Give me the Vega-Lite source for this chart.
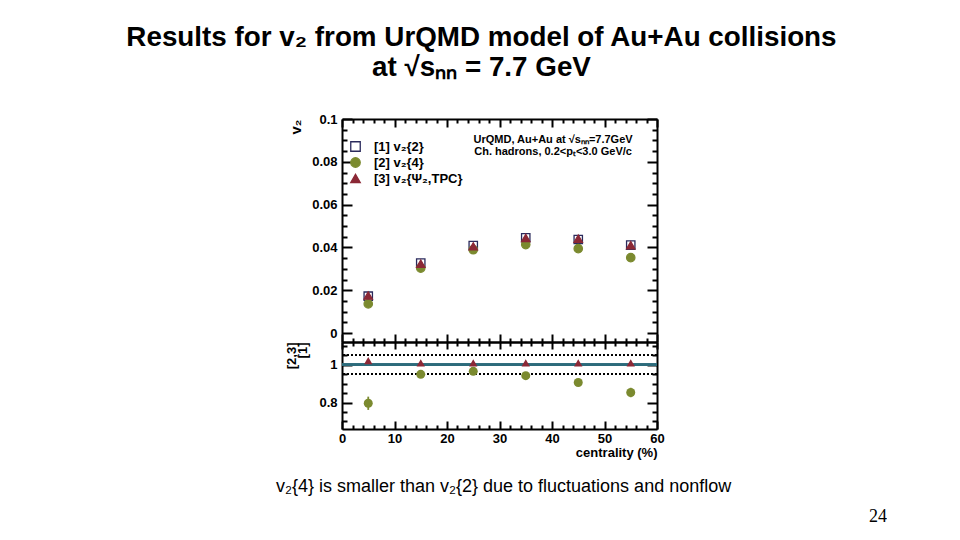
{
  "$schema": "https://vega.github.io/schema/vega-lite/v6.json",
  "background": "white",
  "padding": {"left": 125, "top": 24, "right": 0, "bottom": 0},
  "title": {
    "text": ["Results for v₂ from UrQMD model of Au+Au collisions", "at √sₙₙ = 7.7 GeV"],
    "anchor": "middle",
    "dx": -100,
    "offset": 31,
    "font": "Liberation Sans",
    "fontSize": 27.8,
    "fontWeight": "bold",
    "lineHeight": 30,
    "color": "black"
  },
  "datasets": {
    "v2": [
      {"cent": 5, "method": "[1] v₂{2}", "v2": 0.0172},
      {"cent": 15, "method": "[1] v₂{2}", "v2": 0.0327},
      {"cent": 25, "method": "[1] v₂{2}", "v2": 0.0409},
      {"cent": 35, "method": "[1] v₂{2}", "v2": 0.0445},
      {"cent": 45, "method": "[1] v₂{2}", "v2": 0.0437},
      {"cent": 55, "method": "[1] v₂{2}", "v2": 0.0411},
      {"cent": 5, "method": "[2] v₂{4}", "v2": 0.0136},
      {"cent": 15, "method": "[2] v₂{4}", "v2": 0.0303},
      {"cent": 25, "method": "[2] v₂{4}", "v2": 0.0389},
      {"cent": 35, "method": "[2] v₂{4}", "v2": 0.0413},
      {"cent": 45, "method": "[2] v₂{4}", "v2": 0.0394},
      {"cent": 55, "method": "[2] v₂{4}", "v2": 0.0352},
      {"cent": 5, "method": "[3] v₂{Ψ₂,TPC}", "v2": 0.0175},
      {"cent": 15, "method": "[3] v₂{Ψ₂,TPC}", "v2": 0.0324},
      {"cent": 25, "method": "[3] v₂{Ψ₂,TPC}", "v2": 0.0405},
      {"cent": 35, "method": "[3] v₂{Ψ₂,TPC}", "v2": 0.0444},
      {"cent": 45, "method": "[3] v₂{Ψ₂,TPC}", "v2": 0.0441},
      {"cent": 55, "method": "[3] v₂{Ψ₂,TPC}", "v2": 0.041}
    ],
    "ratio": [
      {"cent": 5, "method": "[2] v₂{4}", "ratio": 0.796, "err": 0.035},
      {"cent": 15, "method": "[2] v₂{4}", "ratio": 0.949, "err": 0.012},
      {"cent": 25, "method": "[2] v₂{4}", "ratio": 0.965, "err": 0.01},
      {"cent": 35, "method": "[2] v₂{4}", "ratio": 0.942, "err": 0.01},
      {"cent": 45, "method": "[2] v₂{4}", "ratio": 0.906, "err": 0.012},
      {"cent": 55, "method": "[2] v₂{4}", "ratio": 0.853, "err": 0.025},
      {"cent": 5, "method": "[3] v₂{Ψ₂,TPC}", "ratio": 1.021, "err": 0.004},
      {"cent": 15, "method": "[3] v₂{Ψ₂,TPC}", "ratio": 1.009, "err": 0.004},
      {"cent": 25, "method": "[3] v₂{Ψ₂,TPC}", "ratio": 1.009, "err": 0.004},
      {"cent": 35, "method": "[3] v₂{Ψ₂,TPC}", "ratio": 1.009, "err": 0.004},
      {"cent": 45, "method": "[3] v₂{Ψ₂,TPC}", "ratio": 1.009, "err": 0.004},
      {"cent": 55, "method": "[3] v₂{Ψ₂,TPC}", "ratio": 1.01, "err": 0.004}
    ]
  },
  "vconcat": [
    {
      "vconcat": [
        {
          "width": 315,
          "height": 223,
          "data": {"name": "v2"},
          "layer": [
            {
              "mark": {"type": "point", "size": 70, "strokeWidth": 1.3, "opacity": 1},
              "encoding": {
                "x": {
                  "field": "cent", "type": "quantitative",
                  "scale": {"domain": [0, 60], "nice": false, "zero": false},
                  "axis": {"orient": "bottom", "values": [0, 10, 20, 30, 40, 50, 60], "labels": false, "title": null, "tickSize": -8}
                },
                "y": {
                  "field": "v2", "type": "quantitative",
                  "scale": {"domain": [-0.0042, 0.1], "nice": false, "zero": false},
                  "axis": {
                    "orient": "left", "values": [0, 0.02, 0.04, 0.06, 0.08, 0.1], "format": "~g",
                    "tickSize": -10, "labelPadding": 15,
                    "title": "v₂", "titleAnchor": "end", "titlePadding": 8, "titleFontSize": 15
                  }
                },
                "shape": {
                  "field": "method", "type": "nominal",
                  "scale": {"domain": ["[1] v₂{2}", "[2] v₂{4}", "[3] v₂{Ψ₂,TPC}"], "range": ["square", "circle", "triangle-up"]},
                  "legend": {"orient": "none", "legendX": 7, "legendY": 21, "title": null}
                },
                "fill": {
                  "field": "method", "type": "nominal",
                  "scale": {"domain": ["[1] v₂{2}", "[2] v₂{4}", "[3] v₂{Ψ₂,TPC}"], "range": ["transparent", "#7b8a2f", "#8b2836"]},
                  "legend": {"orient": "none", "legendX": 7, "legendY": 21, "title": null}
                },
                "stroke": {
                  "field": "method", "type": "nominal",
                  "scale": {"domain": ["[1] v₂{2}", "[2] v₂{4}", "[3] v₂{Ψ₂,TPC}"], "range": ["#2a2a5c", "#7b8a2f", "#8b2836"]},
                  "legend": {"orient": "none", "legendX": 7, "legendY": 21, "title": null}
                }
              }
            },
            {
              "mark": {"type": "point", "opacity": 0},
              "encoding": {
                "x": {"field": "cent", "type": "quantitative", "axis": {"orient": "bottom", "values": [2, 4, 6, 8, 12, 14, 16, 18, 22, 24, 26, 28, 32, 34, 36, 38, 42, 44, 46, 48, 52, 54, 56, 58], "labels": false, "domain": false, "title": null, "tickSize": -4}},
                "y": {"field": "v2", "type": "quantitative", "axis": {"orient": "left", "values": [0.005, 0.01, 0.015, 0.025, 0.03, 0.035, 0.045, 0.05, 0.055, 0.065, 0.07, 0.075, 0.085, 0.09, 0.095], "labels": false, "domain": false, "title": null, "tickSize": -5}}
              }
            },
            {
              "mark": {"type": "point", "opacity": 0},
              "encoding": {
                "x": {"field": "cent", "type": "quantitative", "axis": {"orient": "top", "values": [0, 10, 20, 30, 40, 50, 60], "labels": false, "title": null, "tickSize": -8}},
                "y": {"field": "v2", "type": "quantitative", "axis": {"orient": "right", "values": [0, 0.02, 0.04, 0.06, 0.08, 0.1], "labels": false, "title": null, "tickSize": -10}}
              }
            },
            {
              "mark": {"type": "point", "opacity": 0},
              "encoding": {
                "x": {"field": "cent", "type": "quantitative", "axis": {"orient": "top", "values": [2, 4, 6, 8, 12, 14, 16, 18, 22, 24, 26, 28, 32, 34, 36, 38, 42, 44, 46, 48, 52, 54, 56, 58], "labels": false, "domain": false, "title": null, "tickSize": -4}},
                "y": {"field": "v2", "type": "quantitative", "axis": {"orient": "right", "values": [0.005, 0.01, 0.015, 0.025, 0.03, 0.035, 0.045, 0.05, 0.055, 0.065, 0.07, 0.075, 0.085, 0.09, 0.095], "labels": false, "domain": false, "title": null, "tickSize": -5}}
              }
            },
            {
              "data": {"values": [{}]},
              "mark": {"type": "text", "align": "center", "baseline": "top", "font": "Liberation Sans", "fontSize": 11, "fontWeight": "bold", "lineHeight": 12, "color": "black"},
              "encoding": {
                "x": {"datum": 40.2, "axis": null},
                "y": {"datum": 0.093, "axis": null},
                "text": {"value": ["UrQMD, Au+Au at √sₙₙ=7.7GeV", "Ch. hadrons, 0.2<pₜ<3.0 GeV/c"]}
              }
            }
          ],
          "resolve": {"axis": {"x": "independent", "y": "independent"}}
        },
        {
          "width": 315,
          "height": 87,
          "data": {"name": "ratio"},
          "title": {
            "text": "v₂{4} is smaller than v₂{2} due to fluctuations and nonflow",
            "orient": "bottom",
            "anchor": "start",
            "dx": -10,
            "offset": 19,
            "font": "Liberation Sans",
            "fontSize": 18,
            "fontWeight": "normal",
            "color": "black"
          },
          "layer": [
            {
              "mark": {"type": "rule", "color": "#2c6b7b", "strokeWidth": 2},
              "encoding": {"y": {"datum": 1, "axis": null}}
            },
            {
              "mark": {"type": "rule", "color": "black", "strokeWidth": 1.2, "strokeDash": [2, 2]},
              "encoding": {"y": {"datum": 1.05, "axis": null}}
            },
            {
              "mark": {"type": "rule", "color": "black", "strokeWidth": 1.2, "strokeDash": [2, 2]},
              "encoding": {"y": {"datum": 0.95, "axis": null}}
            },
            {
              "transform": [{"filter": "datum.method === '[2] v₂{4}'"}],
              "mark": {"type": "errorbar", "ticks": false, "color": "#7b8a2f", "thickness": 1.8},
              "encoding": {
                "x": {"field": "cent", "type": "quantitative", "axis": null},
                "y": {"field": "ratio", "type": "quantitative", "axis": null},
                "yError": {"field": "err"}
              }
            },
            {
              "transform": [{"filter": "datum.method === '[2] v₂{4}'"}],
              "mark": {"type": "point", "shape": "circle", "filled": true, "size": 81, "color": "#7b8a2f", "opacity": 1},
              "encoding": {
                "x": {
                  "field": "cent", "type": "quantitative",
                  "scale": {"domain": [0, 60], "nice": false, "zero": false},
                  "axis": {"orient": "bottom", "values": [0, 10, 20, 30, 40, 50, 60], "tickSize": -8, "labelPadding": 11, "title": "centrality (%)", "titleAnchor": "end", "titlePadding": 1}
                },
                "y": {
                  "field": "ratio", "type": "quantitative",
                  "scale": {"domain": [0.66, 1.12], "nice": false, "zero": false},
                  "axis": {"orient": "left", "values": [0.8, 1], "format": "~g", "tickSize": -10, "labelPadding": 15, "title": ["[2,3]", "[1]"], "titleAnchor": "end", "titlePadding": 9, "titleFontSize": 13, "titleLineHeight": 11}
                }
              }
            },
            {
              "transform": [{"filter": "datum.method === '[3] v₂{Ψ₂,TPC}'"}],
              "mark": {"type": "point", "shape": "triangle-up", "filled": true, "size": 70, "color": "#8b2836", "opacity": 1},
              "encoding": {
                "x": {"field": "cent", "type": "quantitative", "axis": null},
                "y": {"field": "ratio", "type": "quantitative", "axis": null}
              }
            },
            {
              "mark": {"type": "point", "opacity": 0},
              "encoding": {
                "x": {"field": "cent", "type": "quantitative", "axis": {"orient": "bottom", "values": [2, 4, 6, 8, 12, 14, 16, 18, 22, 24, 26, 28, 32, 34, 36, 38, 42, 44, 46, 48, 52, 54, 56, 58], "labels": false, "domain": false, "title": null, "tickSize": -4}},
                "y": {"field": "ratio", "type": "quantitative", "axis": {"orient": "left", "values": [0.7, 0.75, 0.85, 0.9, 0.95, 1.05, 1.1], "labels": false, "domain": false, "title": null, "tickSize": -5}}
              }
            },
            {
              "mark": {"type": "point", "opacity": 0},
              "encoding": {
                "x": {"field": "cent", "type": "quantitative", "axis": {"orient": "top", "values": [0, 10, 20, 30, 40, 50, 60], "labels": false, "title": null, "tickSize": -7}},
                "y": {"field": "ratio", "type": "quantitative", "axis": {"orient": "right", "values": [0.8, 1], "labels": false, "title": null, "tickSize": -10}}
              }
            },
            {
              "mark": {"type": "point", "opacity": 0},
              "encoding": {
                "x": {"field": "cent", "type": "quantitative", "axis": {"orient": "top", "values": [2, 4, 6, 8, 12, 14, 16, 18, 22, 24, 26, 28, 32, 34, 36, 38, 42, 44, 46, 48, 52, 54, 56, 58], "labels": false, "domain": false, "title": null, "tickSize": -4}},
                "y": {"field": "ratio", "type": "quantitative", "axis": {"orient": "right", "values": [0.7, 0.75, 0.85, 0.9, 0.95, 1.05, 1.1], "labels": false, "domain": false, "title": null, "tickSize": -5}}
              }
            }
          ],
          "resolve": {"axis": {"x": "independent", "y": "independent"}}
        }
      ],
      "spacing": 0,
      "bounds": "flush",
      "resolve": {
        "scale": {"shape": "independent", "fill": "independent", "stroke": "independent"},
        "legend": {"shape": "independent", "fill": "independent", "stroke": "independent"}
      }
    },
    {
      "width": 545,
      "height": 24,
      "data": {"values": [{"page": "24"}]},
      "mark": {"type": "text", "align": "right", "baseline": "bottom", "font": "Liberation Serif", "fontSize": 18, "color": "black"},
      "encoding": {
        "text": {"field": "page", "type": "nominal"},
        "x": {"value": "width"},
        "y": {"value": "height"}
      }
    }
  ],
  "spacing": 6,
  "resolve": {
    "scale": {"shape": "independent", "fill": "independent", "stroke": "independent"},
    "legend": {"shape": "independent", "fill": "independent", "stroke": "independent"}
  },
  "config": {
    "view": {"stroke": null},
    "font": "Liberation Sans",
    "axis": {
      "grid": false,
      "domainColor": "black",
      "domainWidth": 2,
      "tickColor": "black",
      "tickWidth": 2,
      "labelFont": "Liberation Sans",
      "labelFontSize": 13,
      "labelFontWeight": "bold",
      "labelColor": "black",
      "labelFlush": false,
      "labelOverlap": false,
      "titleFont": "Liberation Sans",
      "titleFontSize": 13,
      "titleFontWeight": "bold",
      "titleColor": "black"
    },
    "legend": {
      "labelFont": "Liberation Sans",
      "labelFontSize": 13,
      "labelFontWeight": "bold",
      "labelColor": "black",
      "labelOffset": 12,
      "symbolSize": 90,
      "symbolStrokeWidth": 1.3,
      "rowPadding": 1,
      "padding": 0
    }
  }
}
